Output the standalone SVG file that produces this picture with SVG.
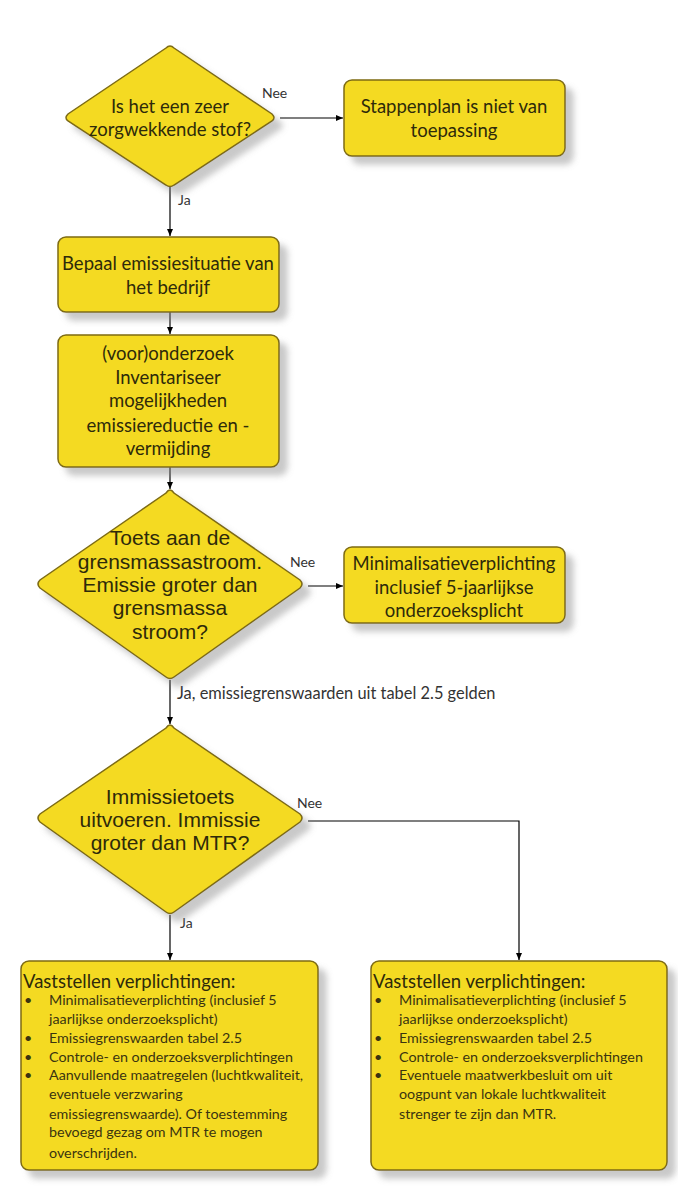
<svg xmlns="http://www.w3.org/2000/svg" width="678" height="1192" viewBox="0 0 678 1192">
<style>
.shape{fill:#F4DA22;stroke:#7D6B13;stroke-width:1.5}
.c{font-family:Lato,"Liberation Sans",sans-serif;fill:#2e2a0a;text-anchor:middle;font-size:18.5px}
.a{font-family:"Liberation Sans",Arial,sans-serif;fill:#2e2a0a;text-anchor:middle;font-size:21px}
.lbl{font-family:Lato,"Liberation Sans",sans-serif;fill:#333;font-size:14px}
.lbl2{font-family:Lato,"Liberation Sans",sans-serif;fill:#333;font-size:16.4px}
.h{font-family:Lato,"Liberation Sans",sans-serif;fill:#2e2a0a;font-size:18.5px}
.b{font-family:Lato,"Liberation Sans",sans-serif;fill:#3a3410;font-size:14.3px}
.conn{fill:none;stroke:#000;stroke-width:1.2}
</style>
<defs>
<filter id="sh" x="-10%" y="-10%" width="130%" height="130%">
<feDropShadow dx="8" dy="8" stdDeviation="3" flood-color="#888" flood-opacity="0.45"/>
</filter>
<marker id="arr" markerWidth="8" markerHeight="8" refX="7" refY="4" orient="auto" markerUnits="userSpaceOnUse">
<path d="M0,1 L7,4 L0,7 Z" fill="#000"/>
</marker>
</defs>
<rect width="678" height="1192" fill="#fff"/>

<g id="connectors">
<path class="conn" d="M280,118 H343" marker-end="url(#arr)"/>
<path class="conn" d="M170,187 V236" marker-end="url(#arr)"/>
<path class="conn" d="M170,312 V334" marker-end="url(#arr)"/>
<path class="conn" d="M170,467 V489" marker-end="url(#arr)"/>
<path class="conn" d="M308,586 H343" marker-end="url(#arr)"/>
<path class="conn" d="M170,680 V724" marker-end="url(#arr)"/>
<path class="conn" d="M308,821 H519 V960" marker-end="url(#arr)"/>
<path class="conn" d="M170,915 V960" marker-end="url(#arr)"/>
<text class="lbl" x="262" y="98">Nee</text>
<text class="lbl" x="178" y="205">Ja</text>
<text class="lbl" x="290" y="567">Nee</text>
<text class="lbl2" x="177" y="699">Ja, emissiegrenswaarden uit tabel 2.5 gelden</text>
<text class="lbl" x="297" y="808">Nee</text>
<text class="lbl" x="180" y="928">Ja</text>
</g>

<g id="d1">
<path class="shape" filter="url(#sh)" d="M170,46 Q172,46 174,48 L272,114 Q276,118 272,121 L174,185 Q170,188 166,185 L68,121 Q64,118 68,114 L166,48 Q168,46 170,46 Z"/>
<text class="c" x="170" y="113">Is het een zeer</text>
<text class="c" x="170" y="136">zorgwekkende stof?</text>
</g>

<g id="b1">
<rect class="shape" filter="url(#sh)" x="344" y="80" width="221" height="76" rx="8"/>
<text class="c" x="454" y="113">Stappenplan is niet van</text>
<text class="c" x="454" y="137">toepassing</text>
</g>

<g id="b2">
<rect class="shape" filter="url(#sh)" x="58" y="237" width="221" height="75" rx="8"/>
<text class="c" x="168" y="270">Bepaal emissiesituatie van</text>
<text class="c" x="168" y="294">het bedrijf</text>
</g>

<g id="b3">
<rect class="shape" filter="url(#sh)" x="58" y="335" width="221" height="132" rx="8"/>
<text class="c" x="168" y="360">(voor)onderzoek</text>
<text class="c" x="168" y="384">Inventariseer</text>
<text class="c" x="168" y="407">mogelijkheden</text>
<text class="c" x="168" y="432">emissiereductie en -</text>
<text class="c" x="168" y="455">vermijding</text>
</g>

<g id="d2">
<path class="shape" filter="url(#sh)" d="M170,490 Q172,490 174,493 L300,580 Q304,584 300,588 L174,677 Q170,680 166,677 L40,588 Q36,584 40,580 L166,493 Q168,490 170,490 Z"/>
<text class="a" x="170" y="545">Toets aan de</text>
<text class="a" x="170" y="569">grensmassastroom.</text>
<text class="a" x="170" y="592">Emissie groter dan</text>
<text class="a" x="170" y="615">grensmassa</text>
<text class="a" x="170" y="639">stroom?</text>
</g>

<g id="b4">
<rect class="shape" filter="url(#sh)" x="344" y="547" width="221" height="76" rx="8"/>
<text class="c" x="454" y="570">Minimalisatieverplichting</text>
<text class="c" x="454" y="594">inclusief 5-jaarlijkse</text>
<text class="c" x="454" y="617">onderzoeksplicht</text>
</g>

<g id="d3">
<path class="shape" filter="url(#sh)" d="M170,725 Q172,725 174,728 L300,814 Q304,818 300,822 L174,912 Q170,915 166,912 L40,822 Q36,818 40,814 L166,728 Q168,725 170,725 Z"/>
<text class="a" x="170" y="804">Immissietoets</text>
<text class="a" x="170" y="827">uitvoeren. Immissie</text>
<text class="a" x="170" y="850">groter dan MTR?</text>
</g>

<g id="b5">
<rect class="shape" filter="url(#sh)" x="21" y="961" width="297" height="209" rx="8"/>
<text class="h" x="23" y="988">Vaststellen verplichtingen:</text>
<g class="b">
<text x="24" y="1005">•</text><text x="49" y="1005">Minimalisatieverplichting (inclusief 5</text>
<text x="49" y="1024">jaarlijkse onderzoeksplicht)</text>
<text x="24" y="1043">•</text><text x="49" y="1043">Emissiegrenswaarden tabel 2.5</text>
<text x="24" y="1062">•</text><text x="49" y="1062">Controle- en onderzoeksverplichtingen</text>
<text x="24" y="1080">•</text><text x="49" y="1080">Aanvullende maatregelen (luchtkwaliteit,</text>
<text x="49" y="1099">eventuele verzwaring</text>
<text x="49" y="1119">emissiegrenswaarde). Of toestemming</text>
<text x="49" y="1137">bevoegd gezag om MTR te mogen</text>
<text x="49" y="1158">overschrijden.</text>
</g>
</g>

<g id="b6">
<rect class="shape" filter="url(#sh)" x="371" y="961" width="296" height="209" rx="8"/>
<text class="h" x="373" y="988">Vaststellen verplichtingen:</text>
<g class="b">
<text x="374" y="1005">•</text><text x="399" y="1005">Minimalisatieverplichting (inclusief 5</text>
<text x="399" y="1024">jaarlijkse onderzoeksplicht)</text>
<text x="374" y="1043">•</text><text x="399" y="1043">Emissiegrenswaarden tabel 2.5</text>
<text x="374" y="1062">•</text><text x="399" y="1062">Controle- en onderzoeksverplichtingen</text>
<text x="374" y="1080">•</text><text x="399" y="1080">Eventuele maatwerkbesluit om uit</text>
<text x="399" y="1099">oogpunt van lokale luchtkwaliteit</text>
<text x="399" y="1119">strenger te zijn dan MTR.</text>
</g>
</g>
</svg>
